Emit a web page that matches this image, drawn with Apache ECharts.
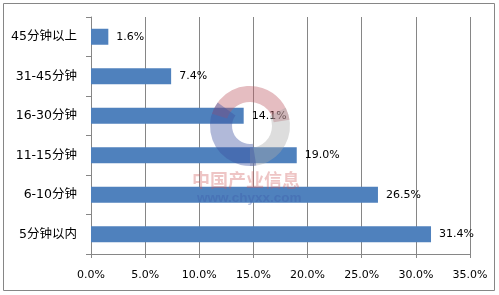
<!DOCTYPE html>
<html><head><meta charset="utf-8">
<script src="https://cdn.jsdelivr.net/npm/echarts@6/dist/echarts.min.js"></script>
<style>html,body{margin:0;padding:0;background:#fff}#c{width:499px;height:295px}</style>
</head><body><div id="c"></div>
<script>
var categories = ['5分钟以内', '6-10分钟', '11-15分钟', '16-30分钟', '31-45分钟', '45分钟以上'];
var values = [31.4, 26.5, 19.0, 14.1, 7.4, 1.6];
var xTicks = { min: 0, max: 35, interval: 5 };

var chart = echarts.init(document.getElementById('c'));
var axisGrey = '#868686';
chart.setOption({
  animation: false,
  backgroundColor: '#fff',
  grid: { left: 91, right: 29, top: 17, bottom: 41 },
  xAxis: {
    type: 'value', min: xTicks.min, max: xTicks.max, interval: xTicks.interval,
    axisLine: { show: true, lineStyle: { color: axisGrey, width: 1 } },
    axisTick: { show: true, length: 4, lineStyle: { color: axisGrey } },
    splitLine: { show: true, lineStyle: { color: axisGrey, width: 1 } },
    axisLabel: { margin: 16, color: '#000', fontSize: 11, fontFamily: 'DejaVu Sans',
      formatter: function (v) { return v.toFixed(1) + '%'; } }
  },
  yAxis: {
    type: 'category', data: categories,
    axisLine: { show: true, lineStyle: { color: axisGrey, width: 1 } },
    axisTick: { show: true, length: 5, lineStyle: { color: axisGrey } },
    axisLabel: { margin: 14, color: '#000', fontSize: 12.5, fontFamily: 'DejaVu Sans, Noto Sans CJK SC' }
  },
  series: [{
    type: 'bar', data: values, barWidth: 16,
    itemStyle: { color: '#4F81BD' },
    label: { show: true, position: 'right', distance: 8, color: '#000', fontSize: 11,
      fontFamily: 'DejaVu Sans', formatter: function (p) { return p.value.toFixed(1) + '%'; } }
  }],
  graphic: [
    { type: 'rect', shape: { x: 3.5, y: 3.5, width: 491, height: 287 }, style: { fill: 'none', stroke: axisGrey, lineWidth: 1 }, z: 0 },
    { type: 'sector', shape: { cx: 250, cy: 126, r: 40, r0: 24, startAngle: Math.PI * 1.1, endAngle: Math.PI * 1.95 }, style: { fill: 'rgba(190,90,100,0.4)' }, z: 100 },
    { type: 'sector', shape: { cx: 250, cy: 126, r: 40, r0: 22, startAngle: Math.PI * 1.85, endAngle: Math.PI * 2.5 }, style: { fill: 'rgba(170,170,170,0.4)' }, z: 100 },
    { type: 'sector', shape: { cx: 250, cy: 126, r: 40, r0: 18, startAngle: Math.PI * 0.45, endAngle: Math.PI * 1.2 }, style: { fill: 'rgba(60,80,160,0.4)' }, z: 100 },
    { type: 'text', left: 192, top: 171, style: { text: '中国产业信息', fill: 'rgba(205,90,90,0.35)', font: 'bold 18px "Noto Sans CJK SC"' }, z: 100 },
    { type: 'text', left: 197, top: 191, style: { text: 'www.chyxx.com', fill: 'rgba(60,90,170,0.35)', font: 'bold 13.5px "Liberation Sans"' }, z: 100 }
  ]
});
</script></body></html>
